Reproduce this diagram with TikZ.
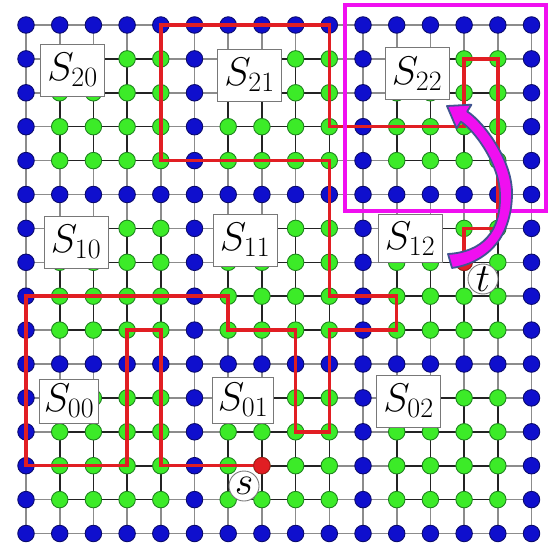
\documentclass[tikz,border=0pt]{standalone}
\usepackage{fix-cm}
\usetikzlibrary{backgrounds}
\definecolor{bluedot}{RGB}{15,15,205}
\definecolor{bluerim}{RGB}{10,10,110}
\definecolor{greendot}{RGB}{60,235,40}
\definecolor{greenrim}{RGB}{30,130,30}
\definecolor{edgegray}{RGB}{140,140,140}
\definecolor{edgedark}{RGB}{35,35,35}
\definecolor{pathred}{RGB}{225,30,35}
\definecolor{boxmag}{RGB}{240,15,240}
\definecolor{arrowrim}{RGB}{65,85,145}
\definecolor{labelrim}{RGB}{120,120,120}
\begin{document}
\begin{tikzpicture}[x=1pt,y=-1pt,
  dot/.style={circle, minimum size=16.5pt, inner sep=0pt, line width=0.9pt},
  sepdot/.style={dot, fill=bluedot, draw=bluerim},
  indot/.style={dot, fill=greendot, draw=greenrim},
  enddot/.style={dot, fill=pathred, draw=pathred!75!black},
  gridedge/.style={line width=1.6pt, draw=edgegray},
  inedge/.style={line width=1.6pt, draw=edgedark},
  route/.style={line width=3.5pt, draw=pathred, line join=miter},
  blocklabel/.style={draw=labelrim, fill=white, line width=0.9pt, minimum width=64pt, minimum height=52pt, inner sep=0pt, font=\fontsize{40}{44}\selectfont},
  endlabel/.style={circle, draw=labelrim, fill=white, line width=0.9pt, minimum size=30pt, inner sep=0pt, font=\fontsize{40}{44}\selectfont},
  region/.style={draw=boxmag, line width=4pt},
  bigarrow/.style={fill=boxmag, draw=arrowrim, line width=1.8pt, line join=round}
]
\useasboundingbox (0,0) rectangle (548,545);
% grid nodes
\foreach \i in {0,...,15} {
  \foreach \j in {0,...,15} {
    \pgfmathsetmacro{\xx}{26+33.7*\i}
    \pgfmathsetmacro{\yy}{25+33.9*\j}
    \pgfmathtruncatemacro{\onsep}{(mod(\i,5)==0 || mod(\j,5)==0) ? 1 : 0}
    \ifnum\onsep=1
      \node[sepdot] (n\i-\j) at (\xx,\yy) {};
    \else
      \node[indot] (n\i-\j) at (\xx,\yy) {};
    \fi
  }
}
% grid edges
\begin{scope}[on background layer]
  \fill[white] (0,0) rectangle (548,545);
  \foreach \i in {0,...,15} {
    \foreach \j in {0,...,15} {
      \pgfmathtruncatemacro{\ii}{\i+1}
      \pgfmathtruncatemacro{\jj}{\j+1}
      \pgfmathtruncatemacro{\hdark}{(mod(\i,5)!=0 && mod(\ii,5)!=0 && mod(\j,5)!=0) ? 1 : 0}
      \pgfmathtruncatemacro{\vdark}{(mod(\i,5)!=0 && mod(\j,5)!=0 && mod(\jj,5)!=0) ? 1 : 0}
      \ifnum\i<15
        \ifnum\hdark=1
          \draw[inedge] (n\i-\j.center) -- (n\ii-\j.center);
        \else
          \draw[gridedge] (n\i-\j.center) -- (n\ii-\j.center);
        \fi
      \fi
      \ifnum\j<15
        \ifnum\vdark=1
          \draw[inedge] (n\i-\j.center) -- (n\i-\jj.center);
        \else
          \draw[gridedge] (n\i-\j.center) -- (n\i-\jj.center);
        \fi
      \fi
    }
  }
\end{scope}
% route from s to t
\draw[route] (n7-13.center) -- (n4-13.center) -- (n4-9.center) -- (n3-9.center)
  -- (n3-13.center) -- (n0-13.center) -- (n0-8.center) -- (n6-8.center)
  -- (n6-9.center) -- (n8-9.center) -- (n8-12.center) -- (n9-12.center)
  -- (n9-9.center) -- (n11-9.center) -- (n11-8.center) -- (n9-8.center)
  -- (n9-4.center) -- (n4-4.center) -- (n4-0.center) -- (n9-0.center)
  -- (n9-3.center) -- (n13-3.center) -- (n13-1.center) -- (n14-1.center)
  -- (n14-6.center) -- (n13-6.center) -- (n13-7.center);
\node[enddot] (src) at (n7-13) {};
\node[enddot] (dst) at (n13-7) {};
% block labels
\node[blocklabel] (s20) at (72.5,70) {$S_{20}$};
\node[blocklabel] (s21) at (249.5,75) {$S_{21}$};
\node[blocklabel] (s22) at (417,73.5) {$S_{22}$};
\node[blocklabel] (s10) at (76,242) {$S_{10}$};
\node[blocklabel] (s11) at (245,240) {$S_{11}$};
\node[blocklabel, minimum height=48pt] (s12) at (410,238.5) {$S_{12}$};
\node[blocklabel, minimum width=59pt, minimum height=44pt] (s00) at (69,401) {$S_{00}$};
\node[blocklabel, minimum width=61pt, minimum height=46pt] (s01) at (243,400) {$S_{01}$};
\node[blocklabel] (s02) at (408.5,401) {$S_{02}$};
% s and t
\node[endlabel] (slab) at (244,486) {$s$};
\node[endlabel] (tlab) at (483,279) {$t$};
% highlighted block
\draw[region] (345,5) rectangle (546,211);
% curved arrow
\draw[bigarrow] (448,254) -- (452,268)
  .. controls (485,263) and (511,240) .. (512,195)
  .. controls (513,160) and (482.5,121) .. (467.2,111.5)
  -- (471.4,104.7) -- (447,106) -- (456.6,128.5) -- (460.8,121.7)
  .. controls (474.4,130.2) and (500,165) .. (500,195)
  .. controls (501,232) and (482,252) .. (448,254) -- cycle;
\end{tikzpicture}
\end{document}
